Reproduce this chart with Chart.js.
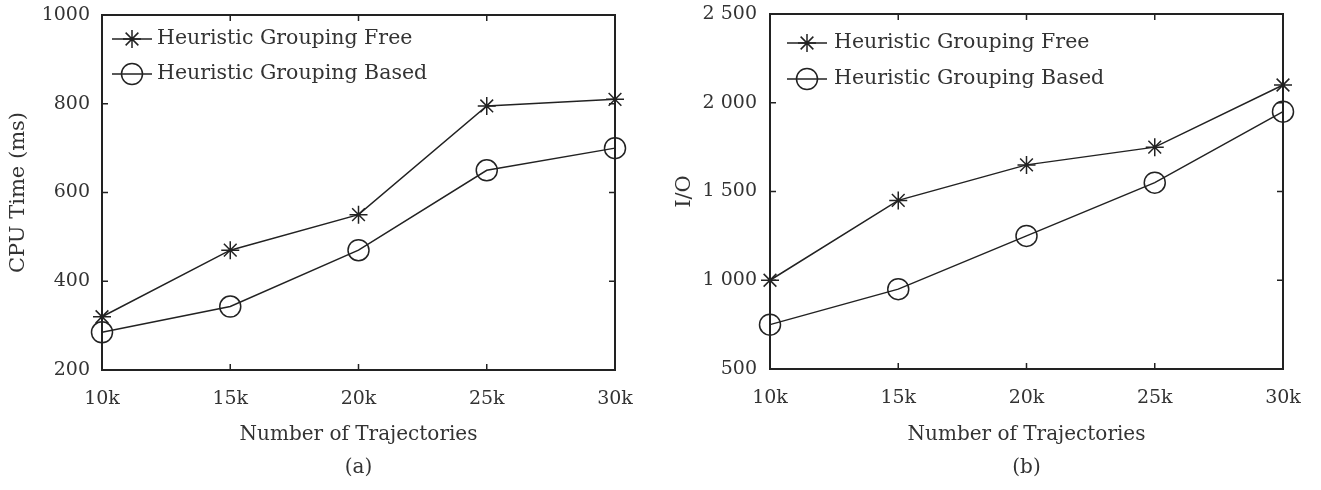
<!DOCTYPE html>
<html>
<head>
<meta charset="utf-8">
<script src="https://cdn.jsdelivr.net/npm/chart.js@4.4.1/dist/chart.umd.min.js"></script>
<style>
  body { margin: 0; background: #fff; }
  .wrap { display: flex; width: 1321px; height: 490px; }
  .box { position: relative; height: 490px; }
</style>
</head>
<body>
<div class="wrap">
  <div class="box" style="width:660px"><canvas id="chartA"></canvas></div>
  <div class="box" style="width:661px"><canvas id="chartB"></canvas></div>
</div>
<script>
// data
const trajectories = ['10k', '15k', '20k', '25k', '30k'];
const cpuFree = [320, 470, 550, 795, 810];
const cpuBased = [285, 343, 470, 650, 700];
const ioFree = [1000, 1450, 1650, 1750, 2100];
const ioBased = [750, 950, 1250, 1550, 1950];
const cpuTicks = [200, 400, 600, 800, 1000];
const ioTicks = [500, 1000, 1500, 2000, 2500];

const FONT = 'DejaVu Serif';
const TEXT = '#333';
const INK = '#222';

// box around the plot with ticks pointing inward on all four sides
const frame = {
    id: 'frame',
    beforeDatasetsDraw(chart) {
        const { ctx, chartArea: a, scales } = chart;
        const len = 6;
        ctx.save();
        ctx.strokeStyle = INK;
        ctx.lineWidth = 1.5;
        scales.x.ticks.forEach((t, i) => {
            const x = scales.x.getPixelForTick(i);
            ctx.beginPath();
            ctx.moveTo(x, a.bottom); ctx.lineTo(x, a.bottom - len);
            ctx.moveTo(x, a.top); ctx.lineTo(x, a.top + len);
            ctx.stroke();
        });
        scales.y.ticks.forEach(t => {
            const y = scales.y.getPixelForValue(t.value);
            ctx.beginPath();
            ctx.moveTo(a.left, y); ctx.lineTo(a.left + len, y);
            ctx.moveTo(a.right, y); ctx.lineTo(a.right - len, y);
            ctx.stroke();
        });
        ctx.lineWidth = 2;
        ctx.strokeRect(a.left, a.top, a.right - a.left, a.bottom - a.top);
        ctx.restore();
    }
};

// legend drawn inside the plot, top left
const insideLegend = {
    id: 'insideLegend',
    afterDraw(chart, args, opts) {
        const { ctx, chartArea: a } = chart;
        chart.data.datasets.forEach((ds, i) => {
            const x0 = a.left + opts.left;
            const y = a.top + opts.top + i * opts.gap;
            ctx.save();
            ctx.strokeStyle = ds.borderColor;
            ctx.lineWidth = ds.borderWidth;
            ctx.beginPath();
            ctx.moveTo(x0, y); ctx.lineTo(x0 + 40, y);
            ctx.stroke();
            ctx.fillStyle = 'rgba(0,0,0,0)';
            Chart.helpers.drawPoint(ctx, {
                pointStyle: ds.pointStyle,
                radius: ds.pointRadius,
                borderWidth: ds.pointBorderWidth,
                rotation: 0
            }, x0 + 20, y);
            ctx.fillStyle = TEXT;
            ctx.font = '20.5px "' + FONT + '"';
            ctx.textBaseline = 'middle';
            ctx.fillText(ds.label, x0 + 40 + opts.textGap, y);
            ctx.restore();
        });
    }
};

function spaced(v) {
    return String(v).replace(/\B(?=(\d{3})+(?!\d))/g, ' ');
}

function makeChart(id, free, based, tickVals, yTitle, caption, cfg) {
    const common = {
        borderColor: INK,
        borderWidth: 1.5,
        pointBorderColor: INK,
        pointBackgroundColor: 'rgba(0,0,0,0)',
        pointBorderWidth: 1.5,
        tension: 0
    };
    new Chart(document.getElementById(id), {
        type: 'line',
        data: {
            labels: trajectories,
            datasets: [
                Object.assign({ label: 'Heuristic Grouping Free', data: free, pointStyle: 'star', pointRadius: 9 }, common),
                Object.assign({ label: 'Heuristic Grouping Based', data: based, pointStyle: 'circle', pointRadius: 10.5 }, common)
            ]
        },
        options: {
            responsive: true,
            maintainAspectRatio: false,
            animation: false,
            layout: { padding: { left: 0, right: cfg.padRight, top: cfg.padTop, bottom: 0 } },
            plugins: {
                legend: { display: false },
                tooltip: { enabled: false },
                insideLegend: cfg.legend
            },
            scales: {
                x: {
                    type: 'category',
                    offset: false,
                    grid: { display: false, drawTicks: false },
                    border: { display: false },
                    ticks: { padding: 18, color: TEXT, font: { family: FONT, size: 19 }, maxRotation: 0, autoSkip: false },
                    title: {
                        display: true,
                        // axis title with the panel caption on the line below
                        text: ['Number of Trajectories', caption],
                        color: TEXT,
                        font: { family: FONT, size: 20, lineHeight: 1.65 },
                        padding: { top: 0, bottom: 5.5 }
                    },
                    afterFit(s) { s.height = cfg.xHeight; }
                },
                y: {
                    min: tickVals[0],
                    max: tickVals[tickVals.length - 1],
                    grid: { display: false, drawTicks: false },
                    border: { display: false },
                    afterBuildTicks(s) { s.ticks = tickVals.map(v => ({ value: v })); },
                    ticks: {
                        padding: cfg.yPad,
                        color: TEXT,
                        font: { family: FONT, size: 19 },
                        callback: v => cfg.sep ? spaced(v) : String(v)
                    },
                    title: {
                        display: true,
                        text: yTitle,
                        color: TEXT,
                        font: { family: FONT, size: 21 },
                        padding: { top: cfg.yTitlePad, bottom: 0 }
                    },
                    afterFit(s) {
                        s.width = cfg.yWidth;
                        s.paddingTop = 0;
                        s.paddingBottom = 0;
                    }
                }
            }
        },
        plugins: [frame, insideLegend]
    });
}

makeChart('chartA', cpuFree, cpuBased, cpuTicks, 'CPU Time (ms)', '(a)', {
    padRight: 45, padTop: 15, xHeight: 120, yWidth: 102, yPad: 12, yTitlePad: 6.4, sep: false,
    legend: { left: 10, top: 24, gap: 35, textGap: 5 }
});
makeChart('chartB', ioFree, ioBased, ioTicks, 'I/O', '(b)', {
    padRight: 38, padTop: 14, xHeight: 121, yWidth: 110, yPad: 13, yTitlePad: 12.4, sep: true,
    legend: { left: 17, top: 29, gap: 36, textGap: 7 }
});
</script>
</body>
</html>
